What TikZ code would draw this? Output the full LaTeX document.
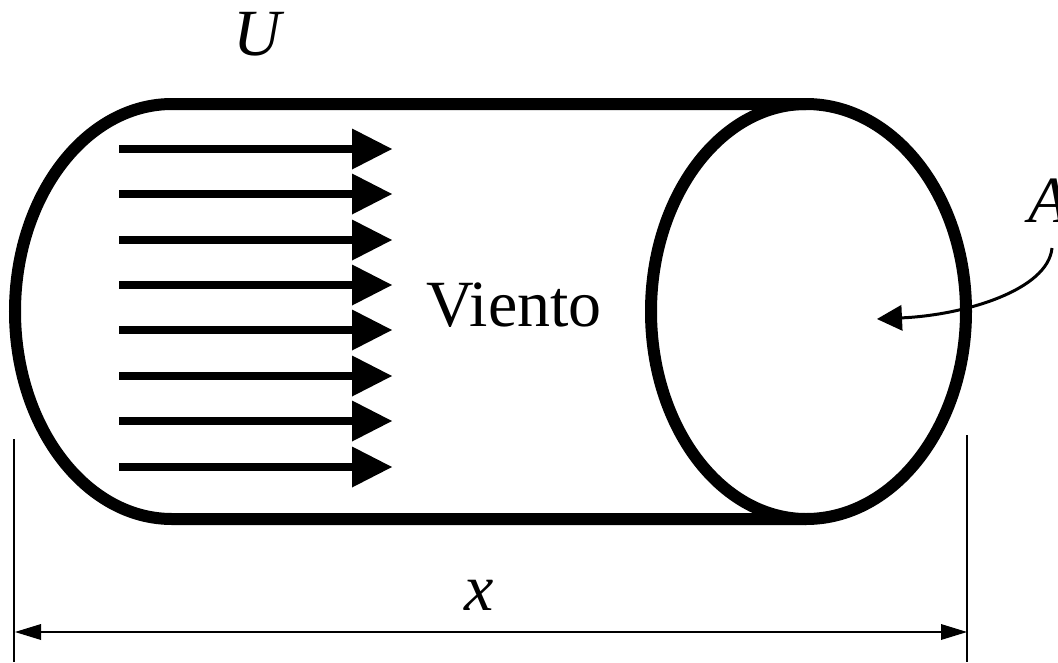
\documentclass[tikz,border=0pt]{standalone}
\usepackage{fontspec}
\setmainfont{Liberation Serif}
\usetikzlibrary{arrows.meta}
\tikzset{
 body/.style={line width=12pt,draw=black},
 flow/.style={line width=8pt,-{Triangle[length=40pt,width=41pt,line width=0pt]}},
 thin dim/.style={line width=1.8pt},
 dimarrow/.style={line width=1.8pt,{Triangle[length=26pt,width=16pt,line width=0pt]}-{Triangle[length=26pt,width=16pt,line width=0pt]}},
 lbl/.style={inner sep=0pt,anchor=base west,font=\fontsize{66}{66}\selectfont},
 ilbl/.style={inner sep=0pt,anchor=base west,font=\fontsize{66}{66}\selectfont\itshape}
}
\begin{document}
\begin{tikzpicture}[x=1pt,y=-1pt]
\useasboundingbox (0,0) rectangle (1058,662);
\draw[body] (172,104) -- (806,104) arc[start angle=-90,end angle=90,x radius=160,y radius=207.5] -- (172,519) arc[start angle=90,end angle=270,x radius=157,y radius=207.5] -- cycle;
\draw[body] (806,104) arc[start angle=-90,end angle=-270,x radius=155,y radius=207.5];
\foreach \i/\y in {1/149,2/194,3/240,4/285,5/330,6/376,7/421,8/467}{
 \coordinate (s\i) at (119,\y);
 \coordinate (e\i) at (392,\y);
 \draw[flow] (s\i) -- (e\i);
}
\node[ilbl] (U) at (233,55) {U};
\node[lbl] (V) at (426,326) {Viento};
\node[ilbl] (A) at (1028,222) {A};
\node[ilbl] (X) at (464,610) {x};
\coordinate (p) at (877,319);
\coordinate (q) at (1052,248);
\draw[line width=3pt,-{Triangle[length=25pt,width=26pt,line width=0pt]}] (q) .. controls (1048,290) and (965,315) .. (p);
\coordinate (l1) at (14,439);
\coordinate (l2) at (14,662);
\coordinate (r1) at (967,435);
\coordinate (r2) at (967,662);
\draw[thin dim] (l1) -- (l2);
\draw[thin dim] (r1) -- (r2);
\coordinate (d1) at (15,632);
\coordinate (d2) at (967,632);
\draw[dimarrow] (d1) -- (d2);
\end{tikzpicture}
\end{document}
